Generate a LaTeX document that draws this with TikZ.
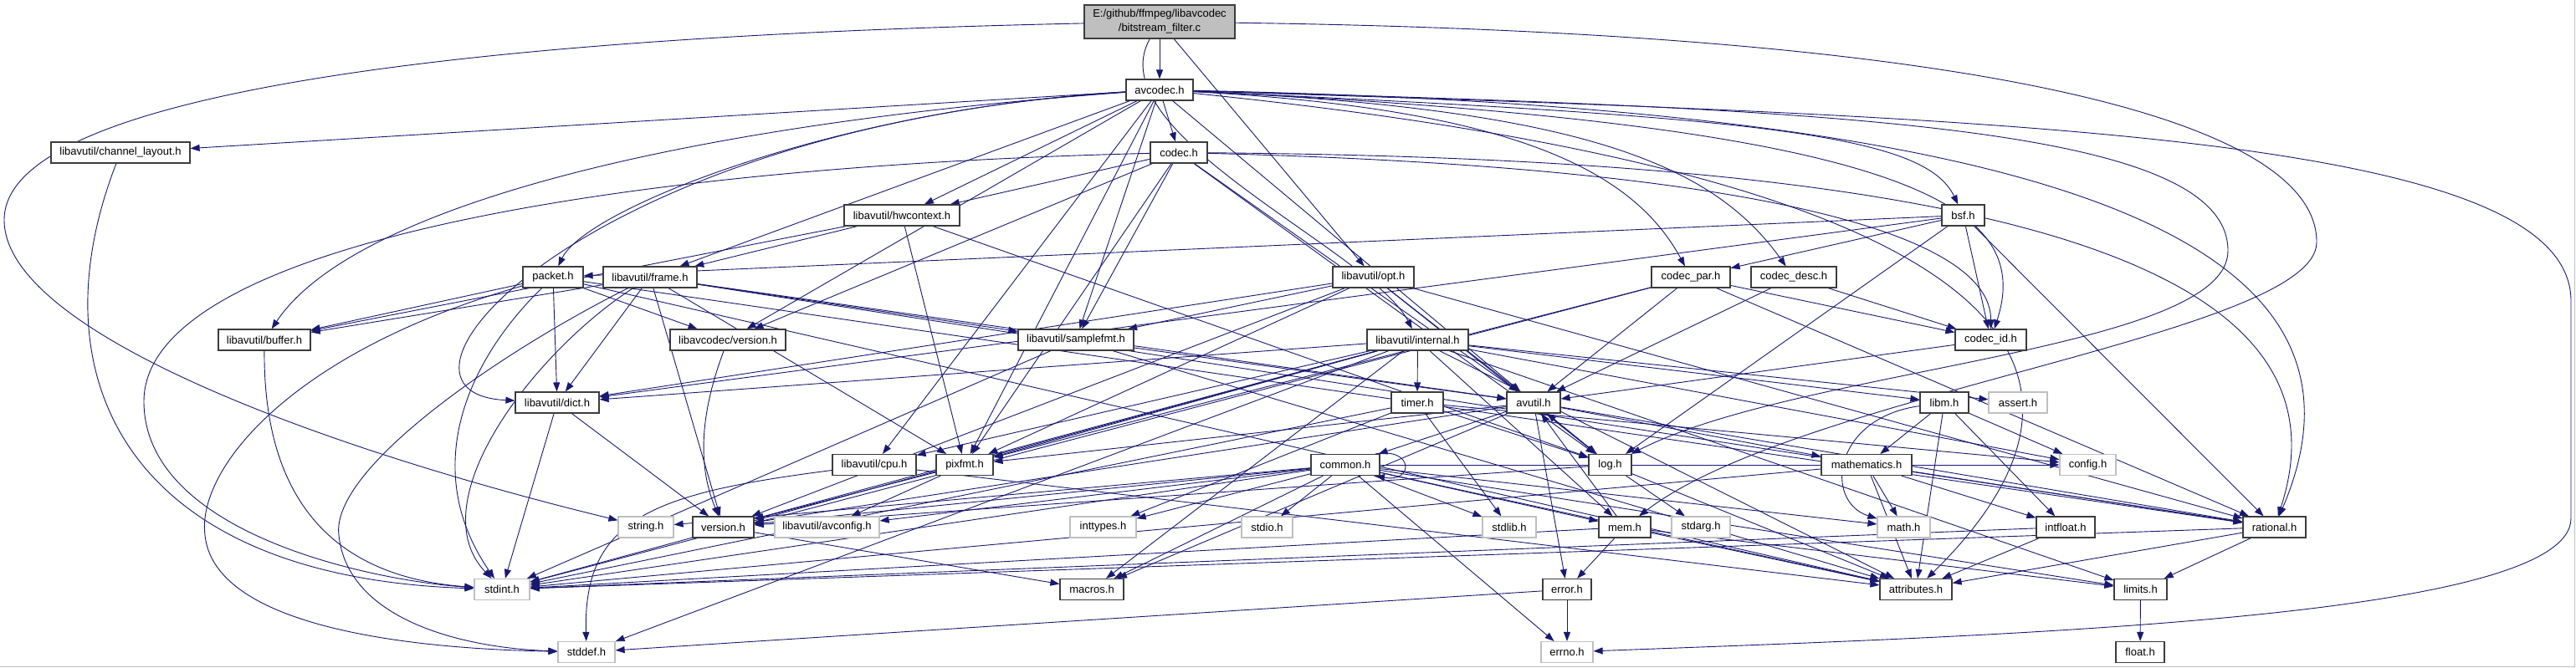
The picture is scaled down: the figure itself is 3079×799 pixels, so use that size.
\documentclass[tikz,border=0pt]{standalone}
\usepackage{fontspec}
\setmainfont{Liberation Sans}
\usetikzlibrary{arrows.meta}
\definecolor{edgeblue}{RGB}{25,25,112}
\definecolor{docborder}{RGB}{60,60,60}
\definecolor{sysborder}{RGB}{191,191,191}
\definecolor{rootfill}{RGB}{191,191,191}
\pgfdeclarelayer{paperlayer}
\pgfdeclarelayer{edgelayer}
\pgfsetlayers{paperlayer,edgelayer,main}
\tikzset{
  hdr/.style={draw=docborder, line width=1.2pt, fill=white, inner sep=0pt,
    minimum height=25pt, font=\fontsize{13}{15}\selectfont, text=black},
  sys/.style={hdr, draw=sysborder},
  rootbox/.style={hdr, fill=rootfill, minimum height=40pt, align=center,
    font=\fontsize{13}{17}\selectfont},
  dep/.style={draw=edgeblue, line width=0.9pt, -{Triangle[length=11pt,width=8pt]}},
}
\begin{document}
\begin{tikzpicture}[x=1pt,y=-1pt]
\useasboundingbox (0,0) rectangle (3079,799);
\begin{pgfonlayer}{paperlayer}
\fill[white] (0,0) rectangle (3079,799);
\draw[sysborder, line width=1pt] (0,797.5) -- (3077.5,797.5) -- (3077.5,0);
\end{pgfonlayer}
% row 0-2
\node[rootbox, minimum width=180pt] (root) at (1386,26) {E:/github/ffmpeg/libavcodec\\/bitstream\_filter.c};
\node[hdr, minimum width=80pt] (avcodec) at (1386,107.5) {avcodec.h};
\node[hdr, minimum width=68pt] (codec) at (1409,182.5) {codec.h};
\node[hdr, minimum width=166pt] (chlayout) at (144,182.5) {libavutil/channel\_layout.h};
\node[hdr, minimum width=138pt] (hwcontext) at (1078,257.5) {libavutil/hwcontext.h};
\node[hdr, minimum width=51pt] (bsf) at (2346.5,257.5) {bsf.h};
% row 4
\node[hdr, minimum width=72pt] (packet) at (661,331.5) {packet.h};
\node[hdr, minimum width=112pt] (frame) at (777,331.5) {libavutil/frame.h};
\node[hdr, minimum width=97pt] (opt) at (1641.5,331.5) {libavutil/opt.h};
\node[hdr, minimum width=94pt] (codecpar) at (2021,331.5) {codec\_par.h};
\node[hdr, minimum width=102pt] (codecdesc) at (2144,331.5) {codec\_desc.h};
% row 5
\node[hdr, minimum width=110pt] (buffer) at (316,406.5) {libavutil/buffer.h};
\node[hdr, minimum width=138pt] (avcversion) at (870,406.5) {libavcodec/version.h};
\node[hdr, minimum width=138pt] (samplefmt) at (1286,406.5) {libavutil/samplefmt.h};
\node[hdr, minimum width=121pt] (internal) at (1694.5,406.5) {libavutil/internal.h};
\node[hdr, minimum width=85pt] (codecid) at (2379.5,406.5) {codec\_id.h};
% row 6
\node[hdr, minimum width=100pt] (dict) at (666,481.5) {libavutil/dict.h};
\node[hdr, minimum width=62pt] (timer) at (1694,481.5) {timer.h};
\node[hdr, minimum width=64pt] (avutil) at (1833,481.5) {avutil.h};
\node[hdr, minimum width=58pt] (libm) at (2324,481.5) {libm.h};
\node[sys, minimum width=70pt] (assert) at (2412,481.5) {assert.h};
% row 7
\node[hdr, minimum width=100pt] (cpu) at (1045,556) {libavutil/cpu.h};
\node[hdr, minimum width=68pt] (pixfmt) at (1153,556) {pixfmt.h};
\node[hdr, minimum width=82pt] (common) at (1608,556) {common.h};
\node[hdr, minimum width=51pt] (log) at (1924.5,556) {log.h};
\node[hdr, minimum width=108pt] (mathematics) at (2231,556) {mathematics.h};
\node[sys, minimum width=67pt] (config) at (2495.5,556) {config.h};
% row 8
\node[sys, minimum width=66pt] (string) at (772,630.5) {string.h};
\node[hdr, minimum width=73pt] (version) at (864.5,630.5) {version.h};
\node[sys, minimum width=125pt] (avconfig) at (988.5,630.5) {libavutil/avconfig.h};
\node[sys, minimum width=79pt] (inttypes) at (1318.5,630.5) {inttypes.h};
\node[sys, minimum width=61pt] (stdio) at (1514.5,630.5) {stdio.h};
\node[sys, minimum width=64pt] (stdlib) at (1804,630.5) {stdlib.h};
\node[hdr, minimum width=62pt] (mem) at (1942,630.5) {mem.h};
\node[sys, minimum width=70pt] (stdarg) at (2033,630.5) {stdarg.h};
\node[sys, minimum width=63pt] (math) at (2275.5,630.5) {math.h};
\node[hdr, minimum width=70pt] (intfloat) at (2469,630.5) {intfloat.h};
\node[hdr, minimum width=75pt] (rational) at (2718.5,630.5) {rational.h};
% row 9
\node[sys, minimum width=66pt] (stdint) at (600,705) {stdint.h};
\node[hdr, minimum width=76pt] (macros) at (1305,705) {macros.h};
\node[hdr, minimum width=58pt] (error) at (1873,705) {error.h};
\node[hdr, minimum width=86pt] (attributes) at (2290,705) {attributes.h};
\node[hdr, minimum width=63pt] (limits) at (2558.5,705) {limits.h};
% row 10
\node[sys, minimum width=68pt] (stddef) at (701,780) {stddef.h};
\node[sys, minimum width=62pt] (errno) at (1873,780) {errno.h};
\node[hdr, minimum width=58pt] (float) at (2558,780) {float.h};

\begin{pgfonlayer}{edgelayer}
% root
\draw[dep] (root) .. controls (500,45) and (5,120) .. (5,263) .. controls (5,400) and (400,540) .. (string);
\draw[dep] (root) -- (avcodec);
\draw[dep] (root) .. controls (1310,160) and (1640,300) .. (internal);
\draw[dep] (root) -- (opt);
\draw[dep] (root) .. controls (2400,40) and (2770,150) .. (2769,290) .. controls (2768,400) and (2150,470) .. (mem);
% avcodec
\draw[dep] (avcodec) .. controls (2400,140) and (3073,160) .. (3073,360) -- (3073,620) .. controls (3073,740) and (2400,760) .. (errno);
\draw[dep] (avcodec) -- (samplefmt);
\draw[dep] (avcodec) .. controls (2300,200) and (2600,400) .. (attributes);
\draw[dep] (avcodec) -- (avutil);
\draw[dep] (avcodec) .. controls (800,150) and (420,250) .. (buffer);
\draw[dep] (avcodec) -- (cpu);
\draw[dep] (avcodec) -- (chlayout);
\draw[dep] (avcodec) .. controls (700,150) and (420,470) .. (dict);
\draw[dep] (avcodec) -- (frame);
\draw[dep] (avcodec) -- (hwcontext);
\draw[dep] (avcodec) .. controls (2200,130) and (2663,150) .. (2663,300) .. controls (2663,420) and (2150,440) .. (log);
\draw[dep] (avcodec) -- (pixfmt);
\draw[dep] (avcodec) .. controls (2500,130) and (2860,300) .. (rational);
\draw[dep] (avcodec) .. controls (2100,140) and (2300,160) .. (bsf);
\draw[dep] (avcodec) -- (codec);
\draw[dep] (avcodec) .. controls (1900,130) and (2050,200) .. (codecdesc);
\draw[dep] (avcodec) .. controls (1800,130) and (1950,200) .. (codecpar);
\draw[dep] (avcodec) .. controls (2300,150) and (2430,250) .. (codecid);
\draw[dep] (avcodec) .. controls (1000,130) and (700,250) .. (packet);
\draw[dep] (avcodec) -- (avcversion);
% codec
\draw[dep] (codec) .. controls (700,200) and (172,300) .. (172,480) .. controls (172,640) and (450,695) .. (stdint);
\draw[dep] (codec) -- (avutil);
\draw[dep] (codec) -- (hwcontext);
\draw[dep] (codec) -- (log);
\draw[dep] (codec) -- (pixfmt);
\draw[dep] (codec) .. controls (2400,190) and (2820,320) .. (rational);
\draw[dep] (codec) -- (samplefmt);
\draw[dep] (codec) .. controls (2100,200) and (2380,280) .. (codecid);
\draw[dep] (codec) -- (avcversion);
% bsf
\draw[dep] (bsf) -- (dict);
\draw[dep] (bsf) -- (log);
\draw[dep] (bsf) -- (rational);
\draw[dep] (bsf) -- (codecid);
\draw[dep] (bsf) -- (codecpar);
\draw[dep] (bsf) -- (packet);
% codec_par / codec_desc / codec_id
\draw[dep] (codecpar) -- (stdint);
\draw[dep] (codecpar) -- (avutil);
\draw[dep] (codecpar) -- (rational);
\draw[dep] (codecpar) -- (pixfmt);
\draw[dep] (codecpar) -- (codecid);
\draw[dep] (codecdesc) -- (avutil);
\draw[dep] (codecdesc) -- (codecid);
\draw[dep] (codecid) -- (avutil);
% packet
\draw[dep] (packet) .. controls (350,420) and (235,560) .. (245,640) .. controls (255,740) and (450,775) .. (stddef);
\draw[dep] (packet) .. controls (560,430) and (500,560) .. (stdint);
\draw[dep] (packet) -- (attributes);
\draw[dep] (packet) -- (buffer);
\draw[dep] (packet) -- (dict);
\draw[dep] (packet) -- (rational);
\draw[dep] (packet) -- (avcversion);
\draw[dep] (avcversion) .. controls (835,500) and (835,560) .. (version);
% frame
\draw[dep] (frame) .. controls (600,420) and (395,560) .. (405,640) .. controls (415,740) and (550,775) .. (stddef);
\draw[dep] (frame) .. controls (640,420) and (500,600) .. (stdint);
\draw[dep] (frame) -- (avutil);
\draw[dep] (frame) -- (buffer);
\draw[dep] (frame) -- (dict);
\draw[dep] (frame) -- (rational);
\draw[dep] (frame) -- (samplefmt);
\draw[dep] (frame) -- (pixfmt);
\draw[dep] (frame) -- (version);
% hwcontext
\draw[dep] (hwcontext) -- (buffer);
\draw[dep] (hwcontext) -- (frame);
\draw[dep] (hwcontext) -- (log);
\draw[dep] (hwcontext) -- (pixfmt);
% opt
\draw[dep] (opt) -- (rational);
\draw[dep] (opt) -- (avutil);
\draw[dep] (opt) -- (dict);
\draw[dep] (opt) -- (log);
\draw[dep] (opt) -- (pixfmt);
\draw[dep] (opt) -- (samplefmt);
\draw[dep] (opt) -- (version);
% samplefmt, buffer, channel_layout, dict
\draw[dep] (samplefmt) -- (stdint);
\draw[dep] (samplefmt) -- (avutil);
\draw[dep] (samplefmt) -- (attributes);
\draw[dep] (buffer) .. controls (315,600) and (400,690) .. (stdint);
\draw[dep] (chlayout) .. controls (40,450) and (150,690) .. (stdint);
\draw[dep] (dict) -- (stdint);
\draw[dep] (dict) -- (version);
% cpu, pixfmt, version
\draw[dep] (cpu) .. controls (780,590) and (697,620) .. (stddef);
\draw[dep] (cpu) -- (attributes);
\draw[dep] (pixfmt) -- (avconfig);
\draw[dep] (pixfmt) -- (version);
\draw[dep] (version) -- (macros);
% rational
\draw[dep] (rational) -- (stdint);
\draw[dep] (rational) -- (limits);
\draw[dep] (rational) -- (attributes);
% avutil
\draw[dep] (avutil) -- (common);
\draw[dep] (avutil) -- (error);
\draw[dep] (avutil) -- (rational);
\draw[dep] (avutil) -- (version);
\draw[dep] (avutil) -- (macros);
\draw[dep] (avutil) -- (mathematics);
\draw[dep] (avutil) -- (log);
\draw[dep] (avutil) -- (pixfmt);
% common
\draw[dep] (common) -- (errno);
\draw[dep] (common) -- (inttypes);
\draw[dep] (common) -- (limits);
\draw[dep] (common) -- (math);
\draw[dep] (common) -- (stdint);
\draw[dep] (common) -- (stdio);
\draw[dep] (common) -- (stdlib);
\draw[dep] (common) -- (string);
\draw[dep] (common) -- (attributes);
\draw[dep] (common) -- (macros);
\draw[dep] (common) -- (version);
\draw[dep] (common) -- (avconfig);
\draw[dep] (common) -- (mem);
\draw[dep] (common) -- (config);
\draw[dep] (common.20) .. controls (1690,535) and (1690,578) .. (common.-20);
% error, mem, log
\draw[dep] (error) -- (errno);
\draw[dep] (error) -- (stddef);
\draw[dep] (mem) -- (limits);
\draw[dep] (mem) -- (stdint);
\draw[dep] (mem) -- (attributes);
\draw[dep] (mem) -- (error);
\draw[dep] (mem) .. controls (1890,560) and (1860,520) .. (avutil);
\draw[dep] (log) -- (stdarg);
\draw[dep] (log) -- (avutil);
\draw[dep] (log) -- (attributes);
\draw[dep] (log) -- (version);
% mathematics, intfloat, limits
\draw[dep] (mathematics) -- (stdint);
\draw[dep] (mathematics) -- (math);
\draw[dep] (mathematics) -- (attributes);
\draw[dep] (mathematics) -- (rational);
\draw[dep] (mathematics) -- (intfloat);
\draw[dep] (intfloat) -- (stdint);
\draw[dep] (intfloat) -- (attributes);
\draw[dep] (limits) -- (float);
% internal
\draw[dep] (internal) -- (limits);
\draw[dep] (internal) -- (stdint);
\draw[dep] (internal) -- (stddef);
\draw[dep] (internal) -- (assert);
\draw[dep] (internal) -- (config);
\draw[dep] (internal) -- (attributes);
\draw[dep] (internal) -- (timer);
\draw[dep] (internal) -- (cpu);
\draw[dep] (internal) -- (dict);
\draw[dep] (internal) -- (macros);
\draw[dep] (internal) -- (mem);
\draw[dep] (internal) -- (pixfmt);
\draw[dep] (internal) -- (version);
\draw[dep] (internal) -- (libm);
% timer
\draw[dep] (timer) -- (stdlib);
\draw[dep] (timer) -- (stdint);
\draw[dep] (timer) -- (inttypes);
\draw[dep] (timer) -- (config);
\draw[dep] (timer) -- (log);
% libm
\draw[dep] (libm) .. controls (2190,500) and (2180,600) .. (math);
\draw[dep] (libm) -- (config);
\draw[dep] (libm) -- (attributes);
\draw[dep] (libm) -- (intfloat);
\draw[dep] (libm) -- (mathematics);
\end{pgfonlayer}
\end{tikzpicture}
\end{document}
